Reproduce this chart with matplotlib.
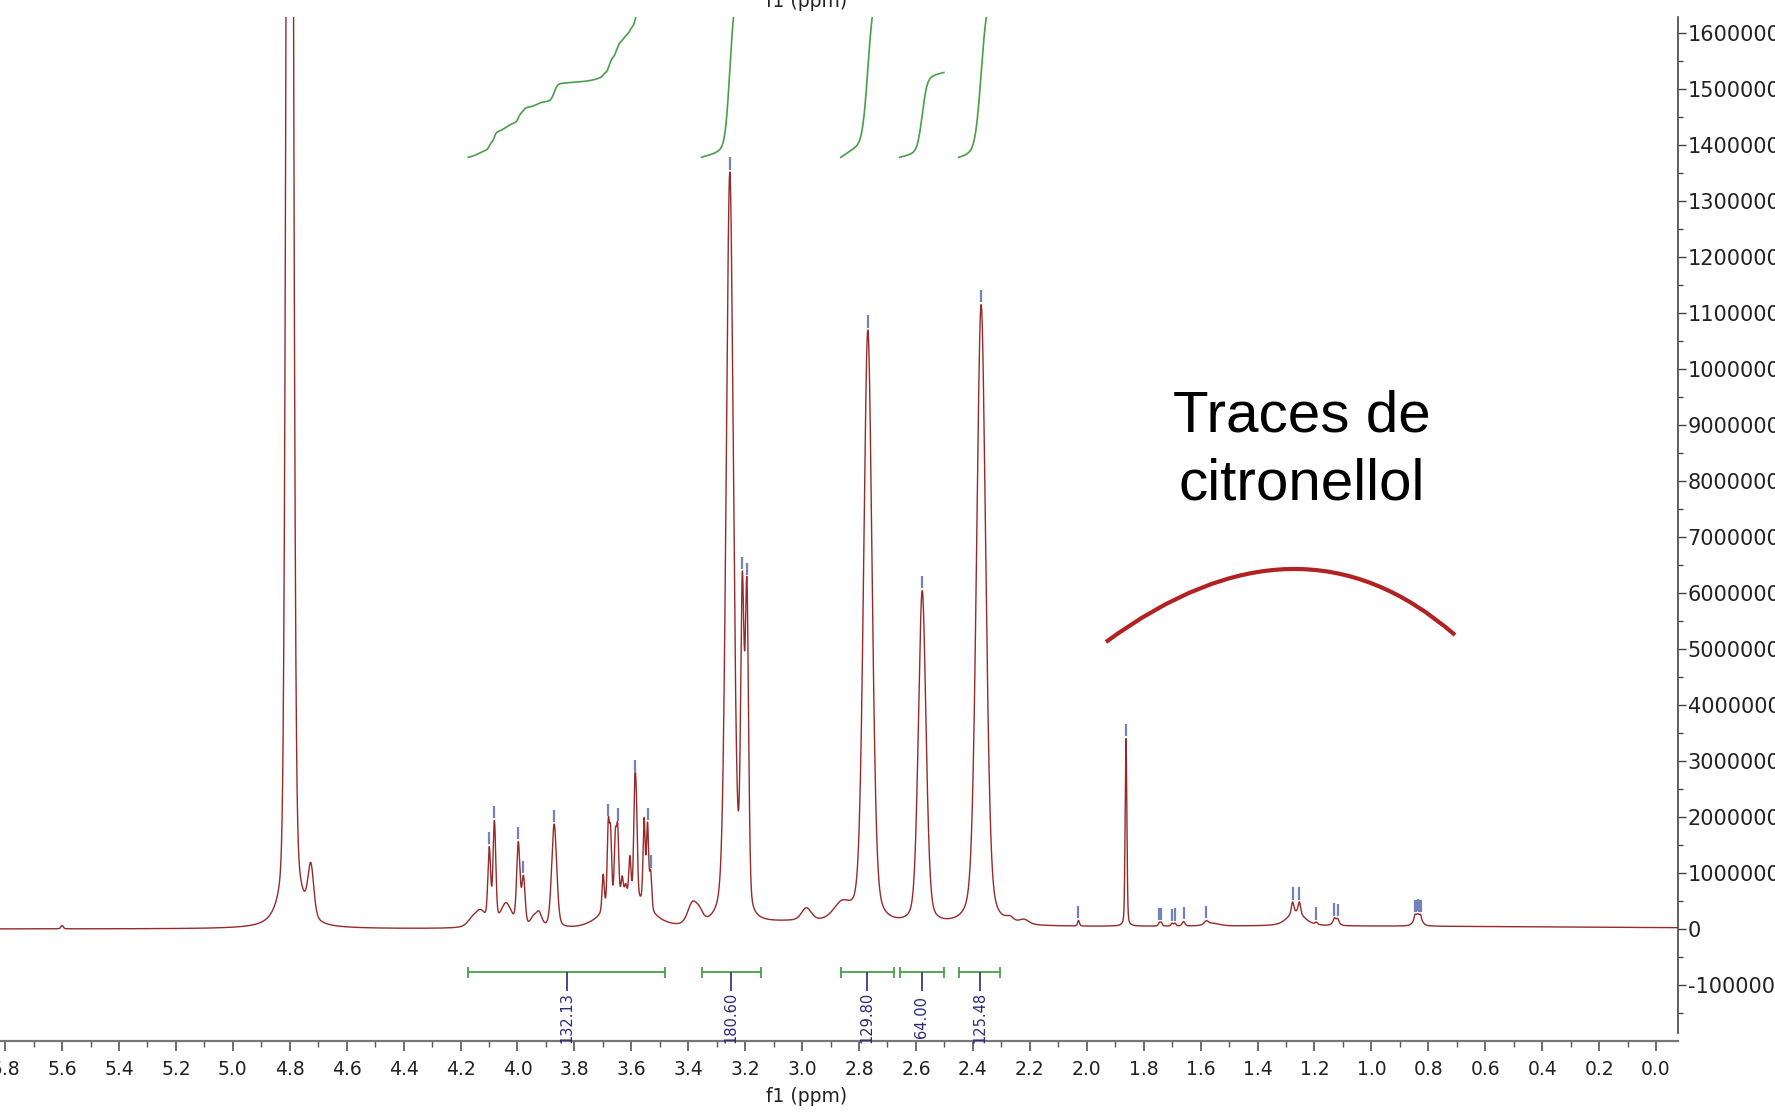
import numpy as np
import matplotlib
matplotlib.use('Agg')
import matplotlib.pyplot as plt
from matplotlib.path import Path
from matplotlib.patches import PathPatch
from matplotlib.ticker import MultipleLocator, FixedLocator, FuncFormatter

# ---------------- data (ppm, heights in units of 1e6) ----------------
peak_ppm = [4.800, 4.790, 4.726, 5.600,
            4.160, 4.130, 4.040, 4.099, 4.081, 3.997, 3.979, 3.945, 3.925, 3.871,
            3.615, 3.699, 3.681, 3.673, 3.656, 3.648, 3.632, 3.620, 3.605, 3.588,
            3.582, 3.555, 3.543, 3.532,
            3.385, 3.360, 3.254, 3.210, 3.194, 3.000, 2.985, 2.860,
            2.769, 2.578, 2.371, 2.270, 2.220, 2.029, 1.862,
            1.745, 1.738, 1.700, 1.690, 1.660, 1.580, 1.560, 1.200,
            1.265, 1.277, 1.253, 1.193, 1.125, 1.130, 1.118,
            0.837, 0.847, 0.827]
peak_height = [40.0, 0.50, 0.90, 0.06,
               0.12, 0.28, 0.42, 1.30, 1.80, 1.45, 0.85, 0.15, 0.25, 1.85,
               0.52, 0.65, 1.40, 1.20, 1.10, 1.20, 0.35, 0.20, 0.70, 1.80,
               1.30, 1.50, 1.45, 0.65,
               0.38, 0.15, 13.40, 5.50, 5.60, 0.10, 0.22, 0.30,
               10.60, 5.95, 11.10, 0.08, 0.08, 0.10, 3.35,
               0.06, 0.06, 0.05, 0.05, 0.08, 0.06, 0.05, 0.05,
               0.25, 0.20, 0.20, 0.04, 0.10, 0.05, 0.05,
               0.22, 0.06, 0.06]
peak_hwhm = [0.0115, 0.045, 0.012, 0.005,
             0.020, 0.022, 0.022, 0.0058, 0.0058, 0.0068, 0.0068, 0.012, 0.012, 0.0105,
             0.085, 0.0045, 0.0045, 0.0045, 0.0045, 0.0045, 0.0045, 0.0045, 0.0045, 0.0045,
             0.0045, 0.0045, 0.0045, 0.0045,
             0.020, 0.015, 0.015, 0.007, 0.007, 0.20, 0.020, 0.035,
             0.0175, 0.0158, 0.019, 0.015, 0.020, 0.004, 0.0035,
             0.004, 0.004, 0.004, 0.004, 0.006, 0.008, 0.030, 1.20,
             0.035, 0.005, 0.005, 0.005, 0.012, 0.004, 0.004,
             0.014, 0.003, 0.003]
peak_eta = [0.15, 0.5, 0.3, 0.3,
            0.5, 0.5, 0.3, 0.3, 0.3, 0.3, 0.3, 0.3, 0.3, 0.3,
            0.0, 0.3, 0.3, 0.3, 0.3, 0.3, 0.3, 0.3, 0.3, 0.3,
            0.3, 0.3, 0.3, 0.3,
            0.3, 0.3, 0.3, 0.3, 0.3, 0.5, 0.3, 0.3,
            0.3, 0.3, 0.3, 0.3, 0.3, 0.3, 0.3,
            0.3, 0.3, 0.3, 0.3, 0.3, 0.3, 0.3, 0.0,
            0.5, 0.3, 0.3, 0.3, 0.3, 0.3, 0.3,
            0.4, 0.3, 0.3]

pick_ppm = [4.099, 4.081, 3.997, 3.979, 3.871, 3.681, 3.648, 3.588, 3.543, 3.532,
            3.254, 3.210, 3.194, 2.769, 2.578, 2.371, 2.029, 1.862,
            1.745, 1.738, 1.700, 1.690, 1.660, 1.580, 1.277, 1.253, 1.193,
            1.130, 1.118, 0.847, 0.842, 0.837, 0.832, 0.827]

integral_start = [4.173, 3.353, 2.864, 2.657, 2.450]
integral_end = [3.481, 3.146, 2.677, 2.502, 2.303]
integral_value = [132.13, 180.60, 129.80, 64.00, 125.48]
integral_label = ['132.13', '180.60', '129.80', '64.00', '125.48']

x_ticks = [round(5.8 - 0.2 * i, 1) for i in range(30)]
y_ticks = [v * 1e6 for v in range(-1, 17)]
annotation_lines = ['Traces de', 'citronellol']

# ---------------- spectrum model ----------------
ppm = np.linspace(5.83, -0.09, 80000)


def pvoigt(x, c, h, w, eta):
    r2 = ((x - c) / w) ** 2
    return h * (eta / (1.0 + r2) + (1.0 - eta) * np.exp(-np.log(2) * r2))


spec = np.zeros_like(ppm)
for c, h, w, e in zip(peak_ppm, peak_height, peak_hwhm, peak_eta):
    spec += pvoigt(ppm, c, h, w, e)
spec *= 1e6

# ---------------- figure ----------------
W, H = 1775, 1113
fig = plt.figure(figsize=(W / 100, H / 100), dpi=100)
ax = fig.add_axes([0.0, (H - 1041) / H, 1678 / W, (1041 - 17) / H])
ax.set_xlim(5.818, -0.0773)
ax.set_ylim(-2.0e6, 16.286e6)

spec_color = '#962a2a'
ax.plot(ppm, spec, color=spec_color, lw=1.0, zorder=3)

# peak picking marks
mark_color = '#7382b8'
for p in pick_ppm:
    v = np.interp(p, ppm[::-1], spec[::-1])
    ax.vlines(p, v + 0.04e6, v + 0.26e6, color=mark_color, lw=1.6, zorder=4)

# integrals
green = '#4a9e4a'
int_base = 13.78e6
int_scale = 1.515e6 / 64.0
bar_y = -0.77e6
for a, b, val, lab in zip(integral_start, integral_end, integral_value, integral_label):
    m = (ppm <= a) & (ppm >= b)
    cum = np.cumsum(spec[m])
    cum = cum / cum[-1]
    ax.plot(ppm[m], int_base + cum * val * int_scale, color=green, lw=1.2, zorder=3)
    ax.plot([a, b], [bar_y, bar_y], color=green, lw=1.3)
    ax.vlines([a, b], bar_y - 0.1e6, bar_y + 0.1e6, color=green, lw=1.3)
    mid = 0.5 * (a + b)
    ax.vlines(mid, bar_y - 0.34e6, bar_y, color='#3a3a80', lw=1.3)
    ax.text(mid, -1.58e6, lab, rotation=90, ha='center', va='center',
            fontsize=10.5, color='#2a2a78')

# axes styling
for s in ['top', 'left']:
    ax.spines[s].set_visible(False)
ax.spines['bottom'].set_color('#777777')
ax.spines['bottom'].set_linewidth(1.6)
ax.spines['right'].set_color('#444444')
ax.spines['right'].set_linewidth(1.2)
ax.spines['right'].set_bounds(-1.86e6, 16.286e6)
ax.yaxis.tick_right()
ax.set_xticks(x_ticks)
ax.set_xticklabels([f'{abs(t):.1f}' if abs(t) < 1e-9 else f'{t:.1f}' for t in x_ticks])
ax.xaxis.set_minor_locator(MultipleLocator(0.1))
ax.yaxis.set_major_locator(FixedLocator(y_ticks))
ax.yaxis.set_minor_locator(FixedLocator([v + 0.5e6 for v in [-2e6] + y_ticks]))
ax.yaxis.set_major_formatter(FuncFormatter(lambda v, p: f'{int(round(v))}'))
ax.tick_params(axis='x', which='major', length=7, width=1.2, color='#555555',
               labelsize=13.5, pad=7, labelcolor='#222222')
ax.tick_params(axis='x', which='minor', length=4, width=1.0, color='#555555')
ax.tick_params(axis='y', which='major', length=6, width=1.0, color='#444444',
               labelsize=15, pad=1, labelcolor='#222222')
ax.tick_params(axis='y', which='minor', length=3.5, width=1.0, color='#444444')
ax.set_ylim(-2.0e6, 16.286e6)

fig.text(807 / W, 1 - 1096 / H, 'f1 (ppm)', ha='center', va='center',
         fontsize=13.5, color='#222222')
fig.text(807 / W, 1 - 11 / H, 'f1 (ppm)', ha='center', va='bottom',
         fontsize=13.5, color='#222222')

# annotation
fig.text(1302 / W, 1 - 417 / H, annotation_lines[0], ha='center', va='center',
         fontsize=42, family='Liberation Sans', color='black')
fig.text(1302 / W, 1 - 485 / H, annotation_lines[1], ha='center', va='center',
         fontsize=42, family='Liberation Sans', color='black')
arc_pts = [(1106, 642), (1299.5, 499.5), (1455, 635)]
verts = [(x / W, 1 - y / H) for x, y in arc_pts]
path = Path(verts, [Path.MOVETO, Path.CURVE3, Path.CURVE3])
fig.add_artist(PathPatch(path, transform=fig.transFigure, fill=False,
                         edgecolor='#b22222', lw=3.0))

fig.savefig('out.png', dpi=100)
